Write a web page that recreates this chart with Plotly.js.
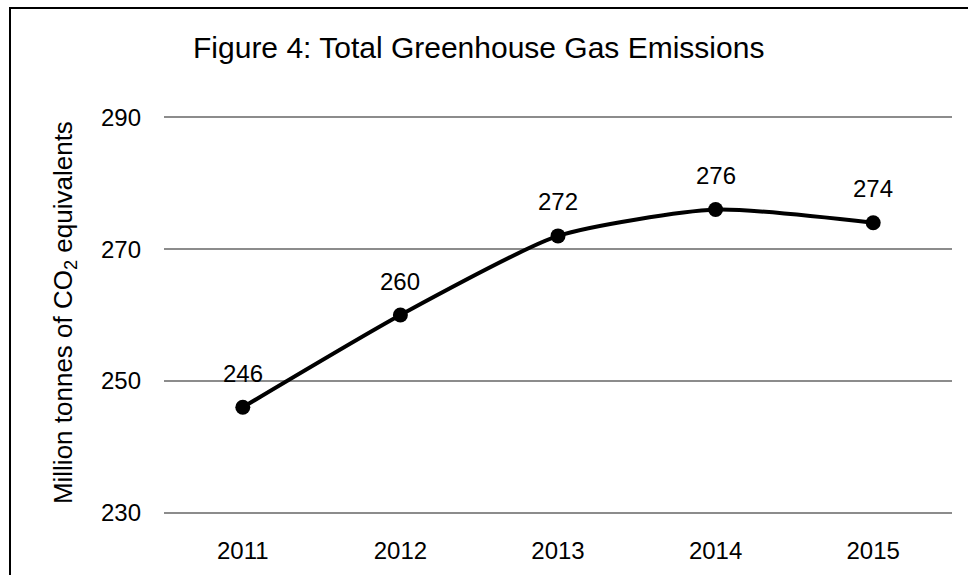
<!DOCTYPE html>
<html>
<head>
<meta charset="utf-8">
<script src="https://cdn.plot.ly/plotly-3.0.1.min.js"></script>
<style>
html,body{margin:0;padding:0;background:#fff;}
#wrap{position:relative;width:968px;height:575px;overflow:hidden;}
#chart{width:968px;height:575px;}
#frame{position:absolute;left:9px;top:7px;width:980px;height:600px;border-left:2px solid #000;border-top:2px solid #000;pointer-events:none;}
</style>
</head>
<body>
<div id="wrap"><div id="chart"></div><div id="frame"></div></div>
<script>
const years = ["2011", "2012", "2013", "2014", "2015"];
const emissions = [246, 260, 272, 276, 274];
const yTicks = [230, 250, 270, 290];

const font = "Liberation Sans, Arial, sans-serif";

const trace = {
  x: years,
  y: emissions,
  type: "scatter",
  mode: "lines+markers",
  line: {color: "#000", width: 4, shape: "spline", smoothing: 0.6},
  marker: {color: "#000", size: 15},
  hoverinfo: "skip"
};

// category axis: annotation x given as category index
const labels = years.map((yr, i) => ({
  x: i, y: emissions[i], xref: "x", yref: "y",
  text: String(emissions[i]), showarrow: false,
  yshift: 34, font: {family: font, size: 24, color: "#000"}
}));

labels.push({
  xref: "paper", yref: "paper", x: -0.1497, y: 0.506,
  text: "Million tonnes of CO<sub>2</sub> equivalents",
  textangle: -90, showarrow: false,
  font: {family: font, size: 26, color: "#000"}
});

const layout = {
  width: 968, height: 575,
  margin: {l: 164, r: 16, t: 114, b: 59},
  paper_bgcolor: "#fff", plot_bgcolor: "#fff",
  showlegend: false,
  title: {
    text: "Figure 4: Total Greenhouse Gas Emissions",
    font: {family: font, size: 30, color: "#000"},
    x: 0.1994, xref: "container", xanchor: "left",
    y: 0.918, yref: "container", yanchor: "middle"
  },
  xaxis: {
    type: "category", range: [-0.5, 4.5],
    showgrid: false, zeroline: false, showline: false,
    ticks: "", ticklabelstandoff: 18,
    tickfont: {family: font, size: 24, color: "#000"},
    fixedrange: true
  },
  yaxis: {
    range: [229.5, 290.5], tickvals: yTicks, ticktext: yTicks.map(String),
    showgrid: true, gridcolor: "#8c8c8c", gridwidth: 2,
    zeroline: false, showline: false, ticks: "",
    ticklabelstandoff: 22,
    tickfont: {family: font, size: 24, color: "#000"},
    fixedrange: true
  },
  annotations: labels
};

Plotly.newPlot("chart", [trace], layout, {displayModeBar: false, staticPlot: true});
</script>
</body>
</html>
